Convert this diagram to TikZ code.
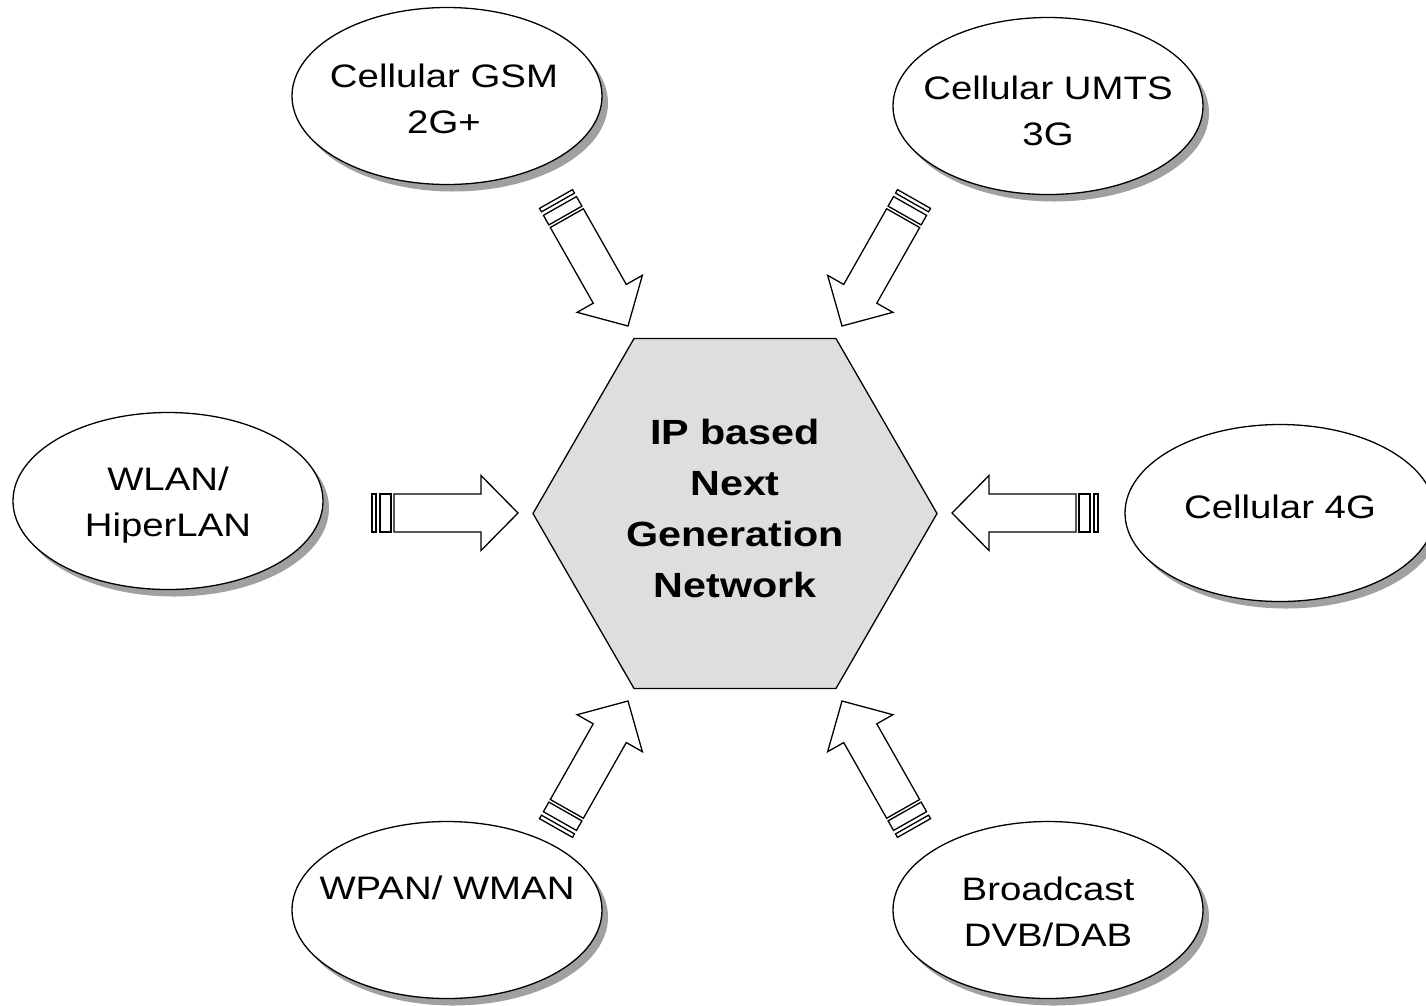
\documentclass[tikz,border=0pt]{standalone}
\usepackage{fontspec}
\setmainfont[FakeStretch=1.18]{Liberation Sans}
\usetikzlibrary{shapes.geometric,shadows}
\definecolor{hexgray}{HTML}{DEDEDE}
\definecolor{shadowgray}{HTML}{A0A0A0}
\begin{document}
\begin{tikzpicture}[x=1pt,y=-1pt,
  bubble/.style={ellipse, draw=black, line width=1.3pt, fill=white,
    minimum width=310pt, minimum height=177pt, inner sep=0pt,
    drop shadow={shadow xshift=6pt, shadow yshift=-7pt, fill=shadowgray, opacity=1}},
  lbl/.style={align=center, font=\fontsize{32.5}{46.7}\selectfont, inner sep=0pt},
  hexlbl/.style={align=center, font=\fontsize{35}{51}\selectfont\bfseries, inner sep=0pt},
  arrowpart/.style={draw=black, line width=1.3pt, fill=white, line join=miter},
  blockarrow/.pic={
    \path[arrowpart] (0,-19) rectangle (4,19);
    \path[arrowpart] (8,-19) rectangle (19,19);
    \path[arrowpart] (22,-19) -- (109,-19) -- (109,-37.5) -- (146,0)
      -- (109,37.5) -- (109,19) -- (22,19) -- cycle;
  }
]
\useasboundingbox (0,0) rectangle (1426,1005);

% central hexagon
\node[regular polygon, regular polygon sides=6, minimum size=404pt,
      draw=black, fill=hexgray, line width=1.3pt, inner sep=0pt] (ngn) at (735,513.5) {};
\node[hexlbl] (ngntext) at (735,508) {IP based\\Next\\Generation\\Network};

% ellipses
\node[bubble] (gsm) at (447,96) {};
\node[lbl] (gsmt) at (444,99) {Cellular GSM\\2G+};

\node[bubble] (umts) at (1048,106) {};
\node[lbl] (umtst) at (1048,111) {Cellular UMTS\\3G};

\node[bubble] (wlan) at (168,501) {};
\node[lbl] (wlant) at (168,505) {WLAN/\\HiperLAN};

\node[bubble] (g4) at (1280,513) {};
\node[lbl] (g4t) at (1280,507) {Cellular 4G};

\node[bubble] (wpan) at (447,910) {};
\node[lbl] (wpant) at (447,888) {WPAN/ WMAN};

\node[bubble] (bc) at (1048,910) {};
\node[lbl] (bct) at (1048,912) {Broadcast\\DVB/DAB};

% block arrows (tail positions)
\coordinate (tl) at (556,199);
\coordinate (tr) at (914,199);
\coordinate (ml) at (372,513);
\coordinate (mr) at (1098,513);
\coordinate (bl) at (556,828);
\coordinate (br) at (914,828);

\pic[rotate=-60.45] at (tl) {blockarrow};
\pic[rotate=-119.55] at (tr) {blockarrow};
\pic[rotate=0] at (ml) {blockarrow};
\pic[rotate=180] at (mr) {blockarrow};
\pic[rotate=60.45] at (bl) {blockarrow};
\pic[rotate=119.55] at (br) {blockarrow};
\end{tikzpicture}
\end{document}
